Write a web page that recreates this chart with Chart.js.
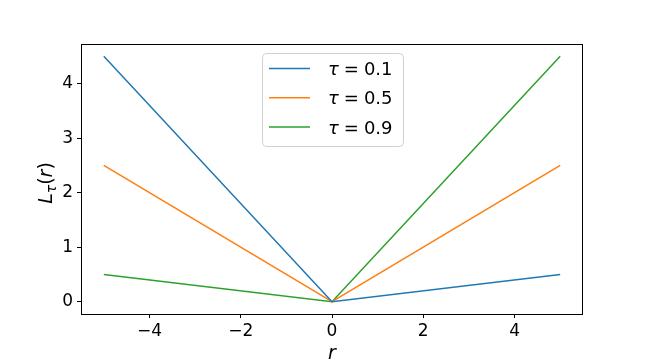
<!DOCTYPE html>
<html>
<head>
<meta charset="utf-8">
<script src="https://cdn.jsdelivr.net/npm/chart.js@4"></script>
<style>
  html, body { margin: 0; padding: 0; background: #fff; }
  canvas { display: block; }
</style>
</head>
<body>
<canvas id="myChart" width="648" height="360"></canvas>
<script>
// data
const xValues = [-5, 0, 5];
const tau01 = [4.5, 0, 0.5];
const tau05 = [2.5, 0, 2.5];
const tau09 = [0.5, 0, 4.5];
const seriesLabels = ["0.1", "0.5", "0.9"];
const xTicks = [-4, -2, 0, 2, 4];
const yTicks = [0, 1, 2, 3, 4];

const colors = ["#1f77b4", "#ff7f0e", "#2ca02c"];
const FONT = "'DejaVu Sans', sans-serif";

function toPoints(ys) {
  return xValues.map((x, i) => ({ x: x, y: ys[i] }));
}

function fmt(v) {
  return v < 0 ? "\u2212" + Math.abs(v) : String(v);
}

// full frame round the plot area
const framePlugin = {
  id: "frame",
  afterDatasetsDraw(chart) {
    const a = chart.chartArea, c = chart.ctx;
    c.save();
    c.strokeStyle = "#000";
    c.lineWidth = 1;
    c.strokeRect(Math.round(a.left) + 0.5, Math.round(a.top) + 0.5,
      Math.round(a.right - a.left) - 1, Math.round(a.bottom - a.top));
    c.restore();
  },
};

// legend box in the middle top, and axis titles with subscript
const extrasPlugin = {
  id: "extras",
  afterDraw(chart) {
    const c = chart.ctx, a = chart.chartArea;
    c.save();

    // legend
    const bx = 262, by = 53, bw = 141, bh = 93, r = 4;
    c.fillStyle = "rgba(255,255,255,0.8)";
    c.strokeStyle = "rgba(204,204,204,0.9)";
    c.lineWidth = 1;
    c.beginPath();
    c.roundRect(bx + 0.5, by + 0.5, bw, bh, r);
    c.fill();
    c.stroke();
    chart.data.datasets.forEach((ds, i) => {
      const y = 68.5 + i * 29.2;
      c.strokeStyle = ds.borderColor;
      c.lineWidth = 1.5;
      c.beginPath();
      c.moveTo(269, y);
      c.lineTo(310, y);
      c.stroke();
      c.fillStyle = "#000";
      c.textBaseline = "middle";
      const ty = y + 2;
      let tx = 328;
      c.font = "oblique 18px " + FONT;
      c.fillText("\u03c4", tx, ty);
      tx += c.measureText("\u03c4").width + 5;
      c.font = "18px " + FONT;
      c.fillText("=", tx, ty);
      tx += c.measureText("=").width + 5;
      c.fillText(seriesLabels[i], tx, ty);
    });

    // y title  L_tau(r)
    c.translate(45, (a.top + a.bottom) / 2 + 4);
    c.rotate(-Math.PI / 2);
    c.fillStyle = "#000";
    c.textBaseline = "alphabetic";
    const parts = [
      ["oblique 19px " + FONT, "L", 0],
      ["oblique 14px " + FONT, "\u03c4", 4],
      ["19px " + FONT, "(", 0],
      ["oblique 19px " + FONT, "r", 0],
      ["19px " + FONT, ")", 0],
    ];
    let w = 0;
    parts.forEach(p => { c.font = p[0]; w += c.measureText(p[1]).width; });
    let px = -w / 2;
    parts.forEach(p => {
      c.font = p[0];
      c.fillText(p[1], px, 7 + p[2]);
      px += c.measureText(p[1]).width;
    });
    c.restore();

    // x title r
    c.save();
    c.fillStyle = "#000";
    c.font = "oblique 19px " + FONT;
    c.textAlign = "center";
    c.textBaseline = "alphabetic";
    c.fillText("r", (a.left + a.right) / 2, 359);
    c.restore();
  },
};

const ctx = document.getElementById("myChart");

const lossChart = new Chart(ctx, {
  type: "line",
  data: {
    datasets: [
      { label: "tau = 0.1", data: toPoints(tau01), borderColor: colors[0] },
      { label: "tau = 0.5", data: toPoints(tau05), borderColor: colors[1] },
      { label: "tau = 0.9", data: toPoints(tau09), borderColor: colors[2] },
    ],
  },
  options: {
    responsive: false,
    animation: false,
    devicePixelRatio: 1,
    layout: { padding: { top: 44, right: 65, left: 0, bottom: 0 } },
    elements: {
      point: { radius: 0 },
      line: { borderWidth: 1.5, tension: 0, fill: false },
    },
    scales: {
      x: {
        type: "linear",
        min: -5.5,
        max: 5.5,
        afterBuildTicks: (axis) => { axis.ticks = xTicks.map(v => ({ value: v })); },
        afterFit: (scale) => { scale.height = 46; },
        border: { display: false },
        grid: { drawOnChartArea: false, drawTicks: true, tickLength: 4, color: "#000", tickWidth: 1 },
        ticks: { color: "#000", font: { family: FONT, size: 17 }, padding: 3, maxRotation: 0, callback: fmt },
      },
      y: {
        type: "linear",
        min: -0.225,
        max: 4.725,
        afterBuildTicks: (axis) => { axis.ticks = yTicks.map(v => ({ value: v })); },
        afterFit: (scale) => { scale.width = 81; },
        border: { display: false },
        grid: { drawOnChartArea: false, drawTicks: true, tickLength: 4, color: "#000", tickWidth: 1 },
        ticks: { color: "#000", font: { family: FONT, size: 17 }, padding: 4, callback: fmt },
      },
    },
    plugins: {
      legend: { display: false },
      tooltip: { enabled: false },
    },
  },
  plugins: [framePlugin, extrasPlugin],
});
</script>
</body>
</html>
